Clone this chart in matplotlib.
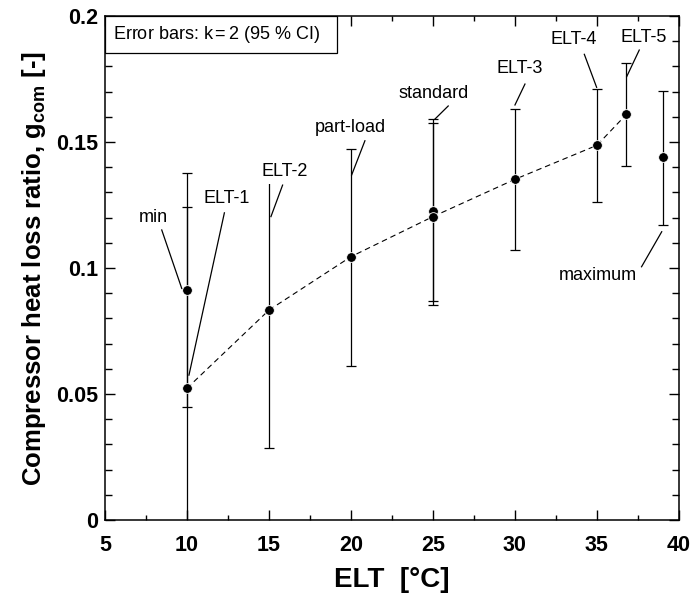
import matplotlib
matplotlib.use("Agg")
import matplotlib.pyplot as plt
from matplotlib.patches import Rectangle
from matplotlib.ticker import MultipleLocator

plt.rcParams["font.family"] = ["Liberation Sans", "DejaVu Sans"]
plt.rcParams["mathtext.fontset"] = "custom"
plt.rcParams["mathtext.rm"] = "Liberation Sans"
plt.rcParams["mathtext.bf"] = "Liberation Sans:bold"

# measured points (ELT in degC, compressor heat loss ratio)
elt = [10, 10, 15, 20, 25, 25, 30, 35, 36.8, 39]
g_com = [0.0913, 0.0523, 0.0833, 0.1045, 0.1226, 0.1204, 0.1352, 0.1487, 0.1610, 0.1439]
g_low = [0.0448, -0.0197, 0.0287, 0.0611, 0.0869, 0.0853, 0.1070, 0.1262, 0.1406, 0.1171]
g_high = [0.1378, 0.1243, 0.1379, 0.1472, 0.1591, 0.1574, 0.1632, 0.1709, 0.1812, 0.1702]

# points joined by the dashed line
line_elt = [10, 15, 20, 25, 30, 35, 36.8]
line_g = [0.0523, 0.0833, 0.1045, 0.1204, 0.1352, 0.1487, 0.1610]

# labels: text position and leader line (start -> end)
labels = ["min", "ELT-1", "ELT-2", "part-load", "standard", "ELT-3", "ELT-4", "ELT-5", "maximum"]
label_x = [7.95, 12.42, 15.98, 19.94, 25.02, 30.3, 33.56, 37.83, 35.08]
label_y = [0.1201, 0.1276, 0.1382, 0.1558, 0.1693, 0.179, 0.1905, 0.1914, 0.0972]
lead_x0 = [8.46, 12.28, 15.83, 20.85, 25.93, 30.61, 34.23, 37.58, 37.72]
lead_y0 = [0.1151, 0.1219, 0.1329, 0.1505, 0.1643, 0.173, 0.1848, 0.1865, 0.1005]
lead_x1 = [9.68, 10.12, 15.12, 20.04, 25.12, 30.0, 34.98, 36.81, 38.95]
lead_y1 = [0.0919, 0.0575, 0.1204, 0.1369, 0.1591, 0.1647, 0.1717, 0.1759, 0.1144]

fig = plt.figure(figsize=(6.94, 6.0), dpi=100)
ax = fig.add_axes([0.1513, 0.1333, 0.827, 0.84])

yerr = [[g - lo for g, lo in zip(g_com, g_low)], [hi - g for g, hi in zip(g_com, g_high)]]
ax.errorbar(elt, g_com, yerr=yerr, fmt="none", ecolor="black", elinewidth=0.9,
            capsize=3.3, capthick=0.9, zorder=2)
ax.plot(line_elt, line_g, color="black", lw=0.8, dashes=(5, 3.5), zorder=3)
ax.plot(elt, g_com, "o", color="black", markersize=7, markeredgecolor="white",
        markeredgewidth=0.6, zorder=4)

for i, lab in enumerate(labels):
    ax.text(label_x[i], label_y[i], lab, fontsize=13, ha="center", va="center",
            bbox=dict(boxstyle="square,pad=0.2", fc="white", ec="none"), zorder=5)
    ax.plot([lead_x0[i], lead_x1[i]], [lead_y0[i], lead_y1[i]], color="black", lw=0.9, zorder=6)

ax.add_patch(Rectangle((0, 0.926), 0.4037, 0.074, transform=ax.transAxes,
                       fc="white", ec="black", lw=0.9, zorder=7))
ax.text(0.014, 0.963, "Error bars: k$\\,$=$\\,$2 (95 % CI)", transform=ax.transAxes,
        fontsize=13, ha="left", va="center", zorder=8)

ax.set_xlim(5, 40)
ax.set_ylim(0, 0.2)
ax.xaxis.set_major_locator(MultipleLocator(5))
ax.xaxis.set_minor_locator(MultipleLocator(2.5))
ax.yaxis.set_major_locator(MultipleLocator(0.05))
ax.yaxis.set_minor_locator(MultipleLocator(0.01))
ax.set_yticks([0, 0.05, 0.1, 0.15, 0.2], ["0", "0.05", "0.1", "0.15", "0.2"])

ax.tick_params(which="both", direction="in", top=True, right=True, width=1.0)
ax.tick_params(which="major", length=7)
ax.tick_params(axis="x", which="minor", length=3.5)
ax.tick_params(axis="y", which="minor", length=5)
ax.tick_params(axis="x", which="major", labelsize=15.5, pad=11)
ax.tick_params(axis="y", which="major", labelsize=15.5, pad=5)
for lab in ax.get_xticklabels() + ax.get_yticklabels():
    lab.set_fontweight("bold")
for sp in ax.spines.values():
    sp.set_linewidth(1.1)

ax.set_xlabel("ELT  [°C]", fontsize=20, fontweight="bold", labelpad=8)
ax.set_ylabel("Compressor heat loss ratio, $\\mathbf{g_{com}}$ [-]", fontsize=18.5,
              fontweight="bold", labelpad=6)

fig.savefig("out.png", dpi=100)
